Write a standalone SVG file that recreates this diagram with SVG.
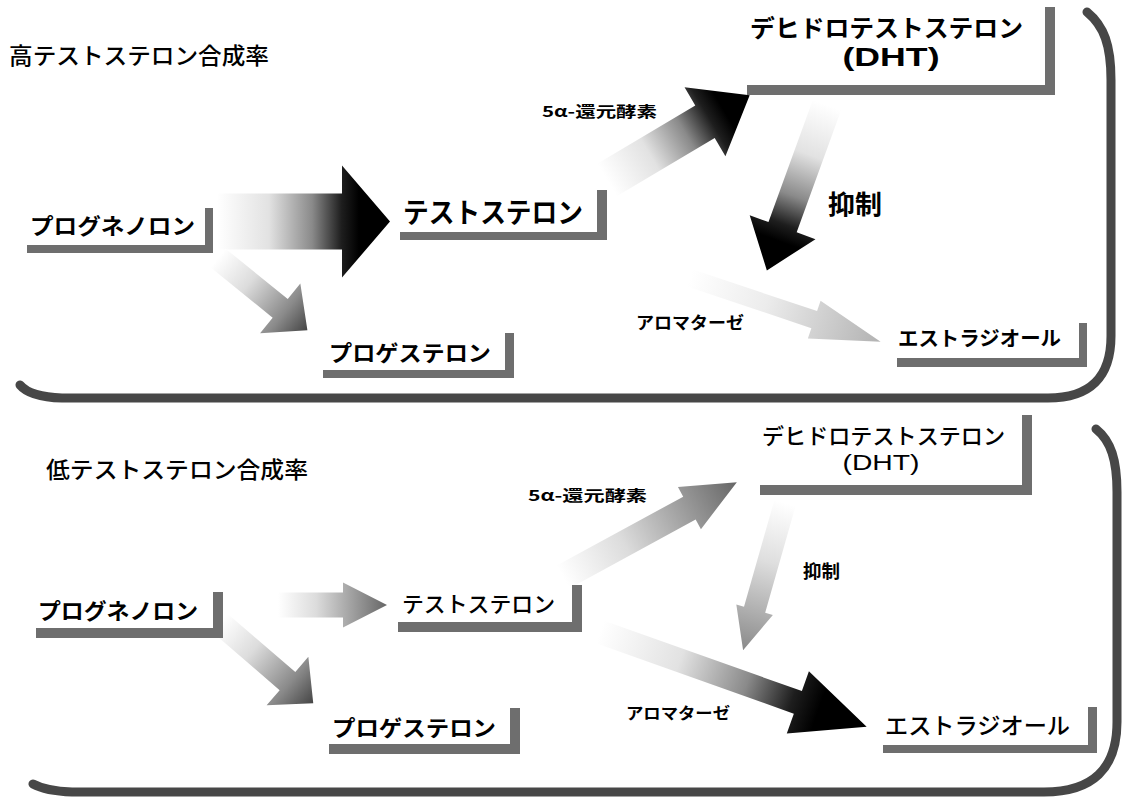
<svg xmlns="http://www.w3.org/2000/svg" width="1123" height="803" viewBox="0 0 1123 803">
<defs>
<style>
text{font-family:"Noto Sans CJK JP","Noto Sans",sans-serif;fill:#000;dominant-baseline:central}
.b{font-weight:700}
.m{font-weight:500}
.lat{font-family:"Liberation Sans","Noto Sans CJK JP",sans-serif;dominant-baseline:auto}
.bar{fill:#6e6e6e}
.frame{fill:none;stroke:#474747;stroke-width:9;stroke-linecap:round;stroke-linejoin:round}
</style>
<linearGradient id="gK" x1="0" y1="0" x2="1" y2="0">
<stop offset="0" stop-color="#fff"/><stop offset="0.3" stop-color="#e2e2e2"/><stop offset="0.55" stop-color="#8a8a8a"/><stop offset="0.72" stop-color="#1e1e1e"/><stop offset="0.82" stop-color="#000"/></linearGradient>
<linearGradient id="gG" x1="0" y1="0" x2="1" y2="0">
<stop offset="0" stop-color="#fff"/><stop offset="0.35" stop-color="#dcdcdc"/><stop offset="0.75" stop-color="#8a8a8a"/><stop offset="1" stop-color="#454545"/></linearGradient>
<linearGradient id="gL" x1="0" y1="0" x2="1" y2="0">
<stop offset="0" stop-color="#fff"/><stop offset="0.4" stop-color="#ececec"/><stop offset="1" stop-color="#b2b2b2"/></linearGradient>
<linearGradient id="gM" x1="0" y1="0" x2="1" y2="0">
<stop offset="0" stop-color="#fff"/><stop offset="0.35" stop-color="#dcdcdc"/><stop offset="1" stop-color="#666"/></linearGradient>
<linearGradient id="gN" x1="0" y1="0" x2="1" y2="0">
<stop offset="0" stop-color="#fff"/><stop offset="0.4" stop-color="#dedede"/><stop offset="1" stop-color="#8a8a8a"/></linearGradient>
</defs>
<rect width="1123" height="803" fill="#fff"/>

<g id="frames">
<path class="frame" d="M20,385 Q30,397 62,398 L1048,398 Q1111,398 1111,336 L1111,80 C1111,45 1104,26 1087,12"/>
<path class="frame" d="M1096,429 C1111,441 1117,460 1117,492 L1117,722 Q1117,792 1044,792 L72,792 Q46,791 33,784"/>
</g>

<g id="titles">
<text x="9" y="54" font-size="23" textLength="260" lengthAdjust="spacingAndGlyphs" class="m">高テストステロン合成率</text>
<text x="46" y="468" font-size="23" textLength="262" lengthAdjust="spacingAndGlyphs" class="m">低テストステロン合成率</text>
</g>

<g id="connectors">
<path fill="url(#gK)" transform="translate(217,221.5)" d="M0,-28 L125,-28 L125,-56 L173,0 L125,56 L125,28 L0,28 Z"/>
<path fill="url(#gG)" transform="translate(218,258) rotate(38.97)" d="M0,-12 L80,-12 L80,-32 L115,0 L80,32 L80,12 L0,12 Z"/>
<path fill="url(#gK)" transform="translate(607,180) rotate(-30.73)" d="M0,-19 L114,-19 L114,-40 L166,0 L114,40 L114,19 L0,19 Z"/>
<path fill="url(#gK)" transform="translate(827,105) rotate(109.98)" d="M0,-15 L130,-15 L130,-35 L176,0 L130,35 L130,15 L0,15 Z"/>
<path fill="url(#gL)" transform="translate(690,278) rotate(18.52)" d="M0,-9 L131,-9 L131,-20 L201,0 L131,20 L131,9 L0,9 Z"/>
<path fill="url(#gM)" transform="translate(278,605)" d="M0,-12.5 L65,-12.5 L65,-22.5 L109,0 L65,22.5 L65,12.5 L0,12.5 Z"/>
<path fill="url(#gG)" transform="translate(220,623) rotate(40.7)" d="M0,-12 L89,-12 L89,-32 L123,0 L89,32 L89,12 L0,12 Z"/>
<path fill="url(#gM)" transform="translate(563,577) rotate(-28.6)" d="M0,-13 L144,-13 L144,-24 L198,0 L144,24 L144,13 L0,13 Z"/>
<path fill="url(#gN)" transform="translate(785,503) rotate(105.9)" d="M0,-11 L111,-11 L111,-19 L153,0 L111,19 L111,11 L0,11 Z"/>
<path fill="url(#gK)" transform="translate(600,632) rotate(19.58)" d="M0,-12 L210,-12 L210,-33 L283,0 L210,33 L210,12 L0,12 Z"/>
</g>

<g id="labels">
<text x="542" y="110" font-size="15" textLength="115" lengthAdjust="spacingAndGlyphs" class="b">5α-還元酵素</text>
<text x="828" y="202" font-size="26" textLength="54" lengthAdjust="spacingAndGlyphs" class="b">抑制</text>
<text x="636" y="321" font-size="17" textLength="108" lengthAdjust="spacingAndGlyphs" class="b">アロマターゼ</text>
<text x="528" y="494" font-size="15" textLength="119" lengthAdjust="spacingAndGlyphs" class="b">5α-還元酵素</text>
<text x="803" y="570" font-size="18" textLength="37" lengthAdjust="spacingAndGlyphs" class="b">抑制</text>
<text x="626" y="712" font-size="16" textLength="104" lengthAdjust="spacingAndGlyphs" class="b">アロマターゼ</text>
</g>

<g id="top-pregnenolone">
<text x="30" y="224" font-size="22" textLength="165" lengthAdjust="spacingAndGlyphs" class="b">プログネノロン</text>
<rect class="bar" x="27" y="245" width="186" height="8"/><rect class="bar" x="205" y="208" width="8" height="45"/>
</g>
<g id="top-testosterone">
<text x="403" y="211" font-size="28" textLength="180" lengthAdjust="spacingAndGlyphs" class="b">テストステロン</text>
<rect class="bar" x="400" y="232" width="207" height="8"/><rect class="bar" x="597" y="190" width="10" height="50"/>
</g>
<g id="top-progesterone">
<text x="329" y="351" font-size="22" textLength="162" lengthAdjust="spacingAndGlyphs" class="b">プロゲステロン</text>
<rect class="bar" x="323" y="370" width="191" height="8"/><rect class="bar" x="505" y="333" width="9" height="45"/>
</g>
<g id="top-dht">
<text x="750" y="26" font-size="24" textLength="273" lengthAdjust="spacingAndGlyphs" class="b">デヒドロテストステロン</text>
<text x="891" y="66" font-size="25" text-anchor="middle" textLength="97" lengthAdjust="spacingAndGlyphs" class="b lat">(DHT)</text>
<rect class="bar" x="747" y="85" width="308" height="10"/><rect class="bar" x="1045" y="7" width="10" height="88"/>
</g>
<g id="top-estradiol">
<text x="898" y="337" font-size="20" textLength="163" lengthAdjust="spacingAndGlyphs" class="b">エストラジオール</text>
<rect class="bar" x="897" y="358" width="190" height="9"/><rect class="bar" x="1079" y="323" width="8" height="44"/>
</g>

<g id="bottom-pregnenolone">
<text x="38" y="609" font-size="22" textLength="160" lengthAdjust="spacingAndGlyphs" class="b">プログネノロン</text>
<rect class="bar" x="36" y="628" width="187" height="10"/><rect class="bar" x="213" y="592" width="10" height="46"/>
</g>
<g id="bottom-testosterone">
<text x="402" y="602" font-size="22" textLength="153" lengthAdjust="spacingAndGlyphs" class="m">テストステロン</text>
<rect class="bar" x="398" y="622" width="184" height="10"/><rect class="bar" x="572" y="585" width="10" height="47"/>
</g>
<g id="bottom-progesterone">
<text x="332" y="726" font-size="22" textLength="164" lengthAdjust="spacingAndGlyphs" class="b">プロゲステロン</text>
<rect class="bar" x="329" y="744" width="191" height="10"/><rect class="bar" x="510" y="708" width="10" height="46"/>
</g>
<g id="bottom-dht">
<text x="762" y="434" font-size="22" textLength="243" lengthAdjust="spacingAndGlyphs" class="m">デヒドロテストステロン</text>
<text x="881" y="470" font-size="22" text-anchor="middle" textLength="77" lengthAdjust="spacingAndGlyphs" class="lat">(DHT)</text>
<rect class="bar" x="760" y="485" width="272" height="10"/><rect class="bar" x="1022" y="415" width="10" height="80"/>
</g>
<g id="bottom-estradiol">
<text x="885" y="724" font-size="23" textLength="185" lengthAdjust="spacingAndGlyphs" class="m">エストラジオール</text>
<rect class="bar" x="883" y="745" width="214" height="8"/><rect class="bar" x="1088" y="707" width="9" height="46"/>
</g>
</svg>
